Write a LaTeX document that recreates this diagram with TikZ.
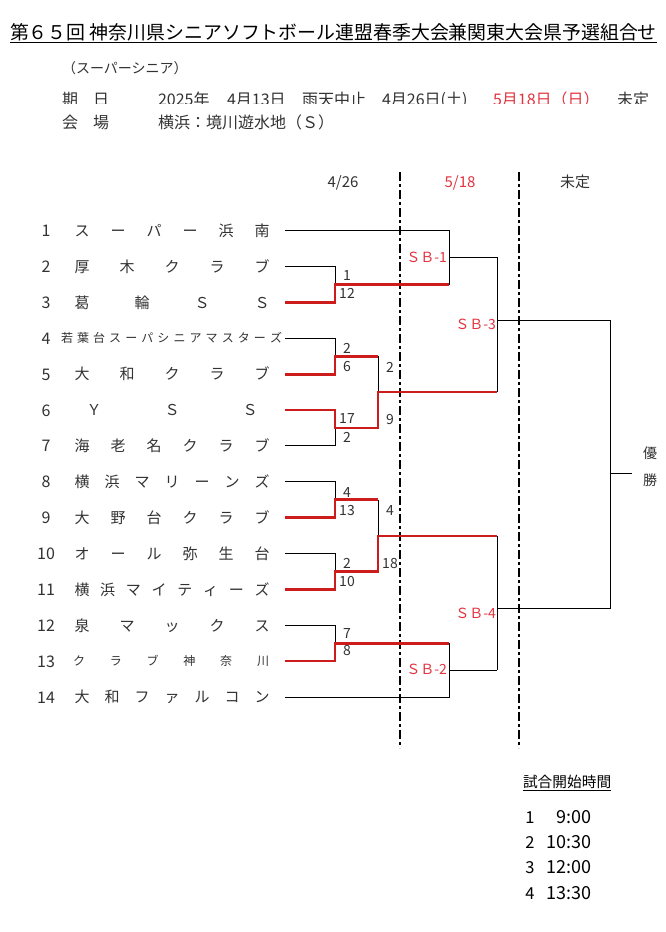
\documentclass[tikz,border=0pt]{standalone}
\usepackage{fontspec}
\setmainfont{Noto Sans CJK JP}
\definecolor{lnred}{RGB}{204,28,28}
\definecolor{txred}{RGB}{226,52,64}
\definecolor{txgray}{RGB}{50,50,50}
\tikzset{
  every node/.style={inner sep=0pt, outer sep=0pt, text=txgray},
  ctr/.style={font=\fontsize{#1}{#1}\selectfont, anchor=base, yshift={-0.38*#1pt}},
  bk/.style={draw=black, line width=1pt},
  rd/.style={draw=lnred, line width=2.6pt, line join=miter},
  dd/.style={draw=black, line width=2.2pt, dash pattern=on 9pt off 3pt on 3pt off 3pt},
  sbl/.style={ctr=14, anchor=base east, text=txred},
  score/.style={ctr=14},
}
\newcommand\teamchars[7]{%
  \foreach \c [count=\k] in {#7}{%
    \pgfmathsetmacro\tcx{#3+(\k-1)*(#4-#3)/(#6-1)}%
    \node[ctr=#5] (t#1c\k) at (\tcx,#2) {\c};
  }%
}
\begin{document}
\begin{tikzpicture}[x=1pt,y=-1pt]
\useasboundingbox (0,0) rectangle (666,932);
\fill[white] (0,0) rectangle (666,932);

% ---------- header ----------
\node[ctr=18.9, anchor=base west, text=black] (title) at (10,32)
  {第６５回 神奈川県シニアソフトボール連盟春季大会兼関東大会県予選組合せ};
\draw[line width=1pt] ([yshift=-3pt]title.base west) -- ([yshift=-3pt]title.base east);
\node[ctr=14, anchor=base west] (sub) at (62,68) {（スーパーシニア）};

\begin{scope}
\clip (0,85) rectangle (666,103.5);
\node[ctr=16] (ki) at (70,99) {期};
\node[ctr=16] (bi) at (101,99) {日};
\node[ctr=16, anchor=base west] (d1) at (158,99) {2025年};
\node[ctr=16, anchor=base west] (d2) at (227,99) {4月13日};
\node[ctr=16, anchor=base west] (d2b) at (302,99) {雨天中止};
\node[ctr=16, anchor=base west] (d3) at (382,99) {4月26日(土)};
\node[ctr=16, anchor=base west, text=txred] (d4) at (493,99) {5月18日（日）};
\node[ctr=16, anchor=base west] (d5) at (617,99) {未定};
\end{scope}
\node[ctr=16] (kai) at (70,122) {会};
\node[ctr=16] (ba) at (101,122) {場};
\node[ctr=16, anchor=base west] (venue) at (158,122) {横浜：境川遊水地（Ｓ）};

% ---------- column headers ----------
\node[ctr=15] (h1) at (343,182) {4/26};
\node[ctr=15, text=txred] (h2) at (460,182) {5/18};
\node[ctr=15] (h3) at (575,182) {未定};

% ---------- dash-dot separators ----------
\coordinate (d1t) at (400,172); \coordinate (d1b) at (400,748);
\coordinate (d2t) at (519,172); \coordinate (d2b) at (519,748);
\draw[dd] (d1t) -- (d1b);
\draw[dd] (d2t) -- (d2b);

% ---------- team numbers ----------
\foreach \i/\y in {1/230.7,2/266.6,3/302.4,4/338.3,5/374.2,6/410.1,7/445.9,
                   8/481.8,9/517.7,10/553.5,11/589.4,12/625.3,13/661.1,14/697.0}{
  \node[ctr=16] (num\i) at (46,\y) {\i};
  \coordinate (r\i) at (285,\y);
  \coordinate (p\i) at (335,\y);
}

% ---------- team names ----------
\teamchars{1}{230.7}{82}{262}{15}{6}{ス,ー,パ,ー,浜,南}
\teamchars{2}{266.6}{82}{262}{15}{5}{厚,木,ク,ラ,ブ}
\teamchars{3}{302.4}{82}{262}{15}{4}{葛,輪,Ｓ,Ｓ}
\teamchars{4}{338.3}{67}{276}{12}{14}{若,葉,台,ス,ー,パ,シ,ニ,ア,マ,ス,タ,ー,ズ}
\teamchars{5}{374.2}{82}{262}{15}{5}{大,和,ク,ラ,ブ}
\teamchars{6}{410.1}{94}{250}{15}{3}{Ｙ,Ｓ,Ｓ}
\teamchars{7}{445.9}{82}{262}{15}{6}{海,老,名,ク,ラ,ブ}
\teamchars{8}{481.8}{82}{262}{15}{7}{横,浜,マ,リ,ー,ン,ズ}
\teamchars{9}{517.7}{82}{262}{15}{6}{大,野,台,ク,ラ,ブ}
\teamchars{10}{553.5}{82}{262}{15}{6}{オ,ー,ル,弥,生,台}
\teamchars{11}{589.4}{82}{262}{15}{8}{横,浜,マ,イ,テ,ィ,ー,ズ}
\teamchars{12}{625.3}{82}{262}{15}{5}{泉,マ,ッ,ク,ス}
\teamchars{13}{661.1}{79}{263}{12}{6}{ク,ラ,ブ,神,奈,川}
\teamchars{14}{697.0}{82}{262}{15}{7}{大,和,フ,ァ,ル,コ,ン}

% ---------- bracket junctions ----------
\coordinate (q23) at (335,284.5);
\coordinate (q45) at (335,356.25);
\coordinate (q67) at (335,428);
\coordinate (q89) at (335,499.75);
\coordinate (q1011) at (335,571.45);
\coordinate (q1213) at (335,643.2);
\coordinate (s45) at (378,356.25);
\coordinate (s67) at (378,428);
\coordinate (s4567) at (378,392);
\coordinate (s89) at (378,499.75);
\coordinate (s1011) at (378,571.45);
\coordinate (s811) at (378,536);
\coordinate (u1) at (449,230.7);
\coordinate (u23) at (449,284.5);
\coordinate (sb1) at (449,257.6);
\coordinate (u1213) at (449,643.2);
\coordinate (u14) at (449,697.0);
\coordinate (sb2) at (449,670);
\coordinate (v1) at (497,257.6);
\coordinate (v2) at (497,392);
\coordinate (sb3) at (497,320);
\coordinate (w1) at (497,536);
\coordinate (w2) at (497,670);
\coordinate (sb4) at (497,608);
\coordinate (f3) at (610,320);
\coordinate (f4) at (610,608);
\coordinate (fm) at (610,473);
\coordinate (fe) at (632,473);

% ---------- black bracket lines ----------
\draw[bk] (r1) -- (u1) -- (u23);
\draw[bk] (r2) -- (p2) -- (q23);
\draw[bk] (r4) -- (p4) -- (q45);
\draw[bk] (r7) -- (p7) -- (q67);
\draw[bk] (s45) -- (s4567);
\draw[bk] (sb1) -- (v1) -- (v2);
\draw[bk] (sb3) -- (f3) -- (f4) -- (sb4);
\draw[bk] (w1) -- (w2);
\draw[bk] (sb2) -- (w2);
\draw[bk] (fm) -- (fe);
\draw[bk] (r8) -- (p8) -- (q89);
\draw[bk] (s89) -- (s811);
\draw[bk] (r10) -- (p10) -- (q1011);
\draw[bk] (r12) -- (p12) -- (q1213);
\draw[bk] (u1213) -- (u14) -- (r14);

% ---------- red winner lines ----------
\draw[rd] (r3) -- (p3) -- (q23) -- (u23);
\draw[rd] (r5) -- (p5) -- (q45) -- (s45);
\draw[rd] (r6) -- (p6) -- (q67) -- (s67) -- (s4567) -- (v2);
\draw[rd] (r9) -- (p9) -- (q89) -- (s89);
\draw[rd] (r11) -- (p11) -- (q1011) -- (s1011) -- (s811) -- (w1);
\draw[rd] (r13) -- (p13) -- (q1213) -- (u1213);

% ---------- scores ----------
\node[score] (sc2) at (347,275) {1};
\node[score] (sc3) at (347,293) {12};
\node[score] (sc4) at (347,348) {2};
\node[score] (sc5) at (347,366) {6};
\node[score] (sc6) at (347,418) {17};
\node[score] (sc7) at (347,437) {2};
\node[score] (sc45) at (390,367) {2};
\node[score] (sc67) at (390,419) {9};
\node[score] (sc8) at (347,492) {4};
\node[score] (sc9) at (347,510) {13};
\node[score] (sc10) at (347,563) {2};
\node[score] (sc11) at (347,581) {10};
\node[score] (sc89) at (390,510) {4};
\node[score] (sc1011) at (390,563) {18};
\node[score] (sc12) at (347,633) {7};
\node[score] (sc13) at (347,650) {8};

% ---------- SB labels ----------
\node[sbl] (lsb1) at (447,257) {ＳＢ-1};
\node[sbl] (lsb2) at (447,669) {ＳＢ-2};
\node[sbl] (lsb3) at (496,324) {ＳＢ-3};
\node[sbl] (lsb4) at (496,613) {ＳＢ-4};

% ---------- champion ----------
\node[ctr=14] (yu) at (650,453) {優};
\node[ctr=14] (sho) at (650,480) {勝};

% ---------- start times ----------
\node[ctr=14.7, anchor=base west, text=black] (tt) at (523,782) {試合開始時間};
\draw[line width=0.9pt] ([yshift=-2.5pt]tt.base west) -- ([yshift=-2.5pt]tt.base east);
\foreach \i/\y/\t in {1/817/9:00, 2/842/10:30, 3/867/12:00, 4/893/13:30}{
  \node[ctr=16.5, text=black] (ti\i) at (530,\y) {\i};
  \node[ctr=18, anchor=base east, text=black] (tm\i) at (591,\y) {\t};
}
\end{tikzpicture}
\end{document}
